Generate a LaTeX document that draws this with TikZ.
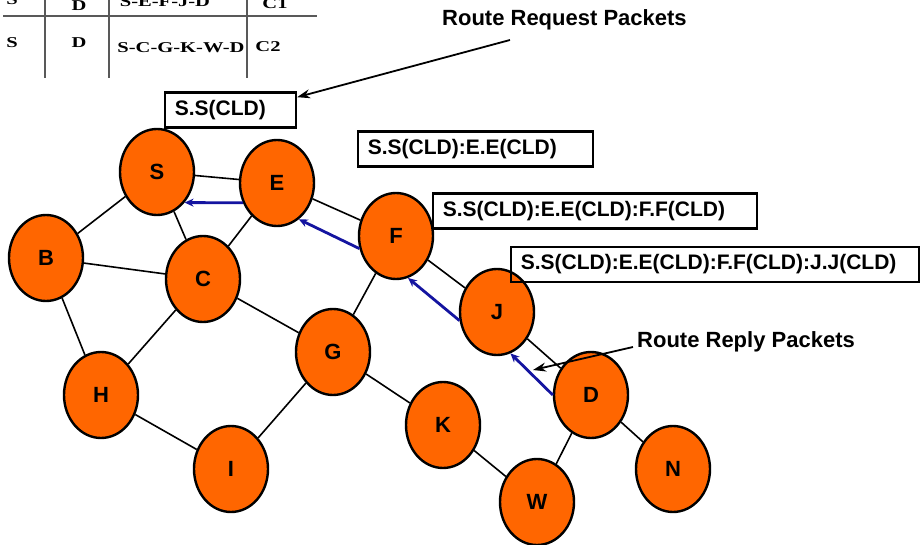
\documentclass[tikz,border=0pt]{standalone}
\usepackage{fontspec}
\setmainfont{Liberation Sans}
\newfontfamily\tabfont{Liberation Serif}
\usetikzlibrary{shapes.geometric,arrows.meta}
\definecolor{nodeorange}{RGB}{255,102,0}
\definecolor{replyblue}{RGB}{20,20,160}
\tikzset{
  mnode/.style={ellipse,draw,line width=2.4pt,fill=nodeorange,minimum width=74pt,minimum height=86pt,inner sep=0pt,font=\fontsize{22}{22}\selectfont\bfseries},
  link/.style={line width=1.6pt},
  reply/.style={replyblue,line width=2.8pt,-{Stealth[length=9pt,width=8pt]}},
  pkt/.style={draw,line width=2.6pt,anchor=west,minimum height=35pt,inner xsep=10pt,inner ysep=0pt,align=left,font=\fontsize{21}{21}\selectfont\bfseries},
  callout/.style={font=\fontsize{22}{22}\selectfont\bfseries,inner sep=0pt,anchor=west},
  pointer/.style={line width=1.8pt,-{Stealth[length=13pt,width=9pt]}},
  tabtext/.style={font=\fontsize{15}{15}\selectfont\tabfont\bfseries,inner sep=0pt,anchor=base},
  tabline/.style={line width=2pt,black!65}
}
\begin{document}
\begin{tikzpicture}[x=1pt,y=-1pt]
\useasboundingbox (0,0) rectangle (923,545);
\clip (0,0) rectangle (923,545);
\draw[tabline] (3,16) -- (317,16);
\draw[tabline] (45,0) -- (45,78);
\draw[tabline] (109,0) -- (109,78);
\draw[tabline] (247,0) -- (247,78);
\node[tabtext] (srcA) at (12,5) {\scalebox{1.37}[1]{S}};
\node[tabtext] (dstA) at (79,11) {\scalebox{1.37}[1]{D}};
\node[tabtext] (pathA) at (165,7) {\scalebox{1.37}[1]{S-E-F-J-D}};
\node[tabtext] (costA) at (275,9) {\scalebox{1.37}[1]{C1}};
\node[tabtext] (srcB) at (12,48) {\scalebox{1.37}[1]{S}};
\node[tabtext] (dstB) at (79,48) {\scalebox{1.37}[1]{D}};
\node[tabtext] (pathB) at (181,53) {\scalebox{1.37}[1]{S-C-G-K-W-D}};
\node[tabtext] (costB) at (268,52) {\scalebox{1.37}[1]{C2}};
\node[mnode] (S) at (157,172) {S};
\node[mnode] (E) at (277,183) {E};
\node[mnode] (B) at (46,258) {B};
\node[mnode] (C) at (203,279) {C};
\node[mnode] (F) at (396,236) {F};
\node[mnode] (J) at (497,312) {J};
\node[mnode] (H) at (101,395) {H};
\node[mnode] (G) at (333,352) {G};
\node[mnode] (I) at (231,469) {I};
\node[mnode] (K) at (443,425) {K};
\node[mnode] (D) at (591,395) {D};
\node[mnode] (W) at (537,502) {W};
\node[mnode] (N) at (673,469) {N};
\draw[link] (S) -- (E) (S) -- (B) (S) -- (C) (E) -- (C) (E) -- (F) (B) -- (C);
\draw[link] (B) -- (H) (C) -- (H) (C) -- (G) (F) -- (G) (F) -- (J) (J) -- (D);
\draw[link] (G) -- (I) (H) -- (I) (G) -- (K) (K) -- (W) (D) -- (W) (D) -- (N);
\draw[reply] (E.210) -- (S.-48);
\draw[reply] (F.199) -- (E.-59);
\draw[reply] (J.193) -- (F.-74);
\draw[reply] (D.180) -- (J.-72);
\node[pkt,text width=111pt] (ssbox) at (163.5,110) {S.S(CLD)};
\node[pkt,text width=215pt] (sebox) at (356.5,149) {S.S(CLD):E.E(CLD)};
\node[pkt,text width=304pt] (sefbox) at (431.5,211) {S.S(CLD):E.E(CLD):F.F(CLD)};
\node[pkt,text width=388pt] (sefjbox) at (509.5,264.5) {S.S(CLD):E.E(CLD):F.F(CLD):J.J(CLD)};
\node[callout] (reqlabel) at (442,20) {Route Request Packets};
\node[callout] (replabel) at (637,342) {Route Reply Packets};
\coordinate (reqtail) at (510,40);
\coordinate (rephead) at (533,370);
\draw[pointer] (reqtail) -- ([yshift=-6pt]ssbox.north east);
\draw[pointer] ([xshift=-4pt,yshift=-5pt]replabel.west) -- (rephead);
\end{tikzpicture}
\end{document}
